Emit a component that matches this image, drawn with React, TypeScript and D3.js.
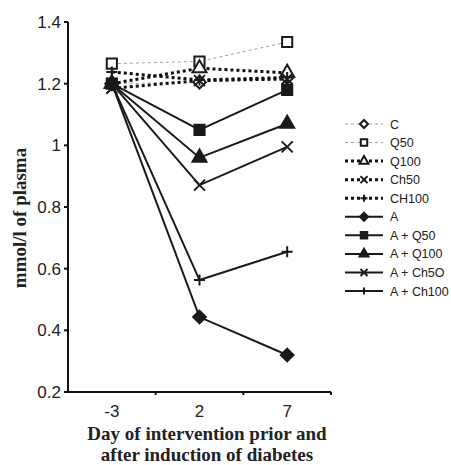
import React from "react";
import * as d3 from "d3";

const W = 451, H = 465;
const M = { left: 68, right: 120, top: 22, bottom: 73 };

const DAYS = ["-3", "2", "7"];
const Y_TICKS = [0.2, 0.4, 0.6, 0.8, 1, 1.2, 1.4];

const SERIES_NAMES = ["C", "Q50", "Q100", "Ch50", "CH100", "A", "A + Q50", "A + Q100", "A + Ch5O", "A + Ch100"];
const V_C = [1.2, 1.205, 1.22];
const V_Q50 = [1.265, 1.272, 1.335];
const V_Q100 = [1.2, 1.25, 1.235];
const V_CH50 = [1.185, 1.21, 1.215];
const V_CH100 = [1.238, 1.212, 1.22];
const V_A = [1.2, 0.443, 0.32];
const V_AQ50 = [1.2, 1.05, 1.18];
const V_AQ100 = [1.2, 0.96, 1.07];
const V_ACH50 = [1.2, 0.871, 0.995];
const V_ACH100 = [1.2, 0.563, 0.655];

type Style = { dash: string; stroke: string; width: number; marker: string; fill: string };
const STYLES: Style[] = [
  { dash: "3,3", stroke: "#a0a0a0", width: 1, marker: "diamond", fill: "#fff" },
  { dash: "3,3", stroke: "#a0a0a0", width: 1, marker: "square", fill: "#fff" },
  { dash: "3,3", stroke: "#111", width: 3, marker: "triangle", fill: "#fff" },
  { dash: "3,3", stroke: "#111", width: 3, marker: "x", fill: "none" },
  { dash: "3,3", stroke: "#111", width: 3, marker: "plus", fill: "none" },
  { dash: "", stroke: "#1a1a1a", width: 2, marker: "diamond", fill: "#1a1a1a" },
  { dash: "", stroke: "#1a1a1a", width: 2, marker: "square", fill: "#1a1a1a" },
  { dash: "", stroke: "#1a1a1a", width: 2, marker: "triangle", fill: "#1a1a1a" },
  { dash: "", stroke: "#1a1a1a", width: 2, marker: "x", fill: "none" },
  { dash: "", stroke: "#1a1a1a", width: 2, marker: "plus", fill: "none" },
];
const VALUES = [V_C, V_Q50, V_Q100, V_CH50, V_CH100, V_A, V_AQ50, V_AQ100, V_ACH50, V_ACH100];

const x = d3.scalePoint<string>().domain(DAYS).range([M.left, W - M.right]).padding(0.5);
const band = d3.scaleBand<string>().domain(DAYS).range([M.left, W - M.right]);
const y = d3.scaleLinear().domain([0.2, 1.4]).range([H - M.bottom, M.top]);

const symType: Record<string, d3.SymbolType> = {
  diamond: d3.symbolDiamond2,
  square: d3.symbolSquare,
  triangle: d3.symbolTriangle,
};

function Marker({ cx, cy, st, size }: { cx: number; cy: number; st: Style; size: number }) {
  const isLine = st.marker === "x" || st.marker === "plus";
  let path: string;
  const r = size / 2;
  if (st.marker === "x") {
    path = `M${-r},${-r}L${r},${r}M${-r},${r}L${r},${-r}`;
  } else if (st.marker === "plus") {
    path = `M${-r},0L${r},0M0,${-r}L0,${r}`;
  } else {
    const k = st.marker === "triangle" ? 0.7 : 0.85;
    path = d3.symbol().type(symType[st.marker]).size(size * size * k)() || "";
  }
  return (
    <path
      d={path}
      transform={`translate(${cx},${cy})`}
      fill={isLine ? "none" : st.fill}
      stroke="#1a1a1a"
      strokeWidth={2}
    />
  );
}

export default function App() {
  const line = d3.line<number>().x((_, i) => x(DAYS[i]) as number).y(d => y(d));
  const legendY = d3.scalePoint<number>().domain(d3.range(10)).range([124, 291]);
  const serif = "Liberation Serif, Times New Roman, serif";
  return (
    <svg width={W} height={H} style={{ position: "absolute", left: 0, top: 0, background: "#fff" }}>
      {/* axes */}
      <g fontFamily="Liberation Sans, Arial, sans-serif" fontSize={17} fill="#222">
        <line x1={M.left} x2={M.left} y1={y(1.4)} y2={y(0.2)} stroke="#111" strokeWidth={2} />
        <line x1={M.left} x2={W - M.right} y1={y(0.2)} y2={y(0.2)} stroke="#111" strokeWidth={2} />
        {Y_TICKS.map(t => (
          <g key={t}>
            <line x1={M.left - 4} x2={M.left} y1={y(t)} y2={y(t)} stroke="#111" strokeWidth={2} />
            <text x={M.left - 7} y={y(t)} dy="0.36em" textAnchor="end">{d3.format("")(t)}</text>
          </g>
        ))}
        {DAYS.map(d => (
          <g key={d}>
            <line x1={(band(d) as number) + band.bandwidth()} x2={(band(d) as number) + band.bandwidth()} y1={y(0.2)} y2={y(0.2) + 3} stroke="#111" strokeWidth={2} />
            <text x={x(d)} y={y(0.2) + 25} textAnchor="middle">{d}</text>
          </g>
        ))}
      </g>
      <text transform={`translate(26,218) rotate(-90)`} textAnchor="middle" fontFamily={serif} fontWeight="bold" fontSize={19} fill="#222">mmol/l of plasma</text>
      <text x={207} y={440} textAnchor="middle" fontFamily={serif} fontWeight="bold" fontSize={19} fill="#222">Day of intervention prior and</text>
      <text x={207} y={461} textAnchor="middle" fontFamily={serif} fontWeight="bold" fontSize={19} fill="#222">after induction of diabetes</text>
      {/* series */}
      {VALUES.map((vals, i) => (
        <path key={"l" + i} d={line(vals) || ""} fill="none" stroke={STYLES[i].stroke} strokeWidth={STYLES[i].width} strokeDasharray={STYLES[i].dash} />
      ))}
      {VALUES.map((vals, i) =>
        vals.map((v, j) => (
          <Marker key={`m${i}-${j}`} cx={x(DAYS[j]) as number} cy={y(v)} st={STYLES[i]} size={11} />
        ))
      )}
      {/* legend */}
      <g fontFamily="Liberation Sans, Arial, sans-serif" fontSize={12.5} fill="#222">
        {SERIES_NAMES.map((n, i) => {
          const ly = legendY(i) as number;
          const st = STYLES[i];
          return (
            <g key={n}>
              <line x1={345} x2={383} y1={ly} y2={ly} stroke={st.stroke} strokeWidth={st.width} strokeDasharray={st.dash} />
              <Marker cx={364} cy={ly} st={st} size={7} />
              <text x={390} y={ly} dy="0.36em">{n}</text>
            </g>
          );
        })}
      </g>
    </svg>
  );
}
